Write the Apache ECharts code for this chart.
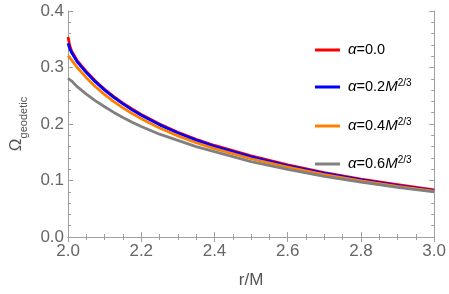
<!DOCTYPE html>
<html>
<head>
<meta charset="utf-8">
<script src="https://cdn.jsdelivr.net/npm/echarts@6/dist/echarts.min.js"></script>
<style>html,body{margin:0;padding:0;background:#fff}#c{width:449px;height:294px}</style>
</head>
<body>
<div id="c"></div>
<script>
// r/M sample positions
var rVals = [2.0, 2.005, 2.01, 2.025, 2.05, 2.075, 2.1, 2.125, 2.15, 2.175, 2.2, 2.25, 2.3, 2.35, 2.4, 2.5, 2.6, 2.7, 2.8, 2.9, 3.0];
// Omega_geodetic values
var alpha00 = [0.354, 0.338, 0.329, 0.312, 0.293, 0.276, 0.2615, 0.2485, 0.237, 0.2265, 0.217, 0.200, 0.1855, 0.173, 0.162, 0.1435, 0.1275, 0.114, 0.1025, 0.0925, 0.0835];
var alpha02 = [0.343, 0.333, 0.326, 0.310, 0.291, 0.2745, 0.260, 0.247, 0.2355, 0.225, 0.2155, 0.1985, 0.184, 0.1715, 0.1605, 0.142, 0.126, 0.1125, 0.101, 0.091, 0.082];
var alpha04 = [0.321, 0.317, 0.313, 0.300, 0.282, 0.266, 0.252, 0.2395, 0.2285, 0.2185, 0.2095, 0.193, 0.179, 0.1668, 0.1565, 0.1385, 0.1235, 0.1105, 0.0995, 0.0895, 0.081];
var alpha06 = [0.281, 0.278, 0.276, 0.266, 0.253, 0.241, 0.2305, 0.2205, 0.2115, 0.203, 0.1955, 0.182, 0.171, 0.160, 0.151, 0.1335, 0.1195, 0.1075, 0.097, 0.088, 0.080];
var seriesNames = ['a0', 'a2', 'a4', 'a6'];
var legendTexts = ['{it|α}=0.0', '{it|α}=0.2{it|M}{sup|2/3}', '{it|α}=0.4{it|M}{sup|2/3}', '{it|α}=0.6{it|M}{sup|2/3}'];
var colors = ['#ff0000', '#0000ff', '#ff8000', '#808080'];
var xTicks = {min: 2.0, max: 3.0, interval: 0.2};
var yTicks = {min: 0.0, max: 0.4, interval: 0.1};

function pairs(v) { return rVals.map(function (r, i) { return [r, v[i]]; }); }
var allVals = [alpha00, alpha02, alpha04, alpha06];

var frame = '#a0a0a0';
var font = 'Liberation Sans, Arial, sans-serif';
function axisCommon(extra) {
  var o = {
    type: 'value',
    axisLine: {show: true, lineStyle: {color: frame, width: 1}},
    axisTick: {show: true, inside: true, length: 5, lineStyle: {color: frame}},
    splitLine: {show: false},
    minorSplitLine: {show: false}
  };
  for (var k in extra) o[k] = extra[k];
  return o;
}

var legends = seriesNames.map(function (n, i) {
  return {
    data: [n],
    left: 310,
    top: [36, 73, 112, 150][i],
    icon: 'rect',
    itemWidth: 25,
    itemHeight: 3,
    selectedMode: false,
    formatter: function () { return legendTexts[i]; },
    textStyle: {
      color: '#000', fontSize: 14.5, fontFamily: font, padding: [0, 0, 0, 3], lineHeight: 18,
      rich: {
        it: {fontStyle: 'italic', fontSize: 15, fontFamily: font, color: '#000', lineHeight: 18},
        sup: {fontSize: 10, fontFamily: font, color: '#000', verticalAlign: 'top', lineHeight: 10}
      }
    }
  };
});

var chart = echarts.init(document.getElementById('c'), null, {renderer: 'canvas'});
chart.setOption({
  animation: false,
  backgroundColor: '#fff',
  grid: {left: 61, right: 13, top: 11, bottom: 52, containLabel: false},
  legend: legends,
  xAxis: [
    axisCommon({min: xTicks.min, max: xTicks.max, interval: xTicks.interval, position: 'bottom',
      minorTick: {show: true, splitNumber: 4, length: 3, lineStyle: {color: frame}},
      axisLabel: {show: true, margin: 6, formatter: function (v) { return v.toFixed(1); }, color: '#666', fontSize: 17, fontFamily: font},
      name: 'r/M', nameLocation: 'middle', nameGap: 35,
      nameTextStyle: {color: '#555', fontSize: 17, fontFamily: font}}),
    axisCommon({min: xTicks.min, max: xTicks.max, interval: xTicks.interval, position: 'top',
      minorTick: {show: true, splitNumber: 4, length: 3, lineStyle: {color: frame}},
      axisLabel: {show: false}})
  ],
  yAxis: [
    axisCommon({min: yTicks.min, max: yTicks.max, interval: yTicks.interval, position: 'left',
      minorTick: {show: true, splitNumber: 5, length: 3, lineStyle: {color: frame}},
      axisLabel: {show: true, margin: 4, formatter: function (v) { return v.toFixed(1); }, color: '#666', fontSize: 17, fontFamily: font},
      name: '{o|Ω}{s|geodetic}', nameLocation: 'middle', nameGap: 40, nameRotate: 90,
      nameTextStyle: {
        rich: {
          o: {fontSize: 17, fontFamily: font, color: '#555', lineHeight: 20},
          s: {fontSize: 11, fontFamily: font, color: '#555', verticalAlign: 'bottom', lineHeight: 11, padding: [0, 0, -3, 0]}
        }
      }}),
    axisCommon({min: yTicks.min, max: yTicks.max, interval: yTicks.interval, position: 'right',
      minorTick: {show: true, splitNumber: 5, length: 3, lineStyle: {color: frame}},
      axisLabel: {show: false}})
  ],
  series: seriesNames.map(function (n, i) {
    return {
      name: n, type: 'line', xAxisIndex: 0, yAxisIndex: 0,
      data: pairs(allVals[i]),
      showSymbol: false, symbol: 'none', smooth: false,
      color: colors[i],
      lineStyle: {width: 2.8, color: colors[i], join: 'round'},
      z: 2 + i
    };
  })
});
</script>
</body>
</html>
